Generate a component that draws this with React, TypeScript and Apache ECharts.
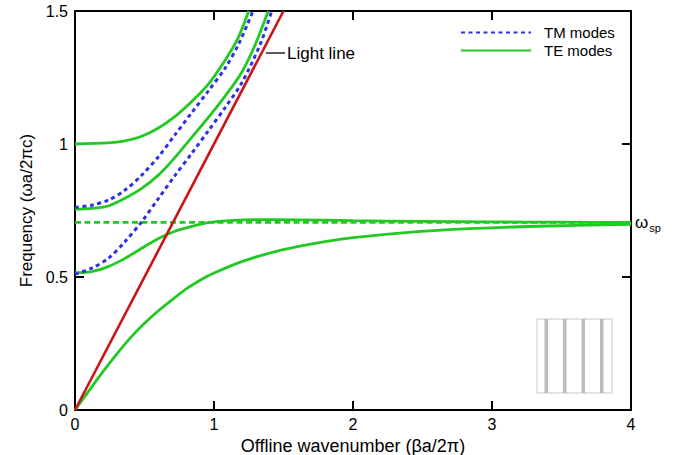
import React, { useEffect, useRef } from "react";
import * as echarts from "echarts";

// TE modes (green, solid)
const teMode1: number[][] = [[0, 1.0], [0.24, 1.004], [0.36, 1.012], [0.48, 1.029], [0.6, 1.06], [0.72, 1.104], [0.84, 1.16], [0.96, 1.225], [1.08, 1.315], [1.17, 1.395], [1.25, 1.5]];
const teMode2: number[][] = [[0, 0.754], [0.12, 0.758], [0.24, 0.767], [0.36, 0.796], [0.48, 0.833], [0.6, 0.883], [0.72, 0.95], [0.84, 1.025], [0.96, 1.1], [1.08, 1.18], [1.2, 1.27], [1.3, 1.378], [1.39, 1.5]];
const teMode3: number[][] = [[0, 0.516], [0.12, 0.52], [0.24, 0.539], [0.36, 0.57], [0.48, 0.608], [0.6, 0.645], [0.72, 0.672], [0.84, 0.69], [0.96, 0.704], [1.08, 0.711], [1.3, 0.716], [1.6, 0.715], [2, 0.712], [2.5, 0.709], [3, 0.707], [3.5, 0.706], [4, 0.705]];
const teMode4: number[][] = [[0, 0], [0.1, 0.072], [0.2, 0.143], [0.3, 0.21], [0.4, 0.272], [0.5, 0.326], [0.6, 0.373], [0.7, 0.415], [0.8, 0.455], [0.9, 0.488], [1.0, 0.515], [1.2, 0.558], [1.4, 0.59], [1.6, 0.614], [1.8, 0.633], [2.0, 0.648], [2.4, 0.668], [2.8, 0.681], [3.2, 0.689], [3.6, 0.694], [4, 0.698]];

// TM modes (blue, dotted)
const tmMode1: number[][] = [[0, 0.762], [0.12, 0.77], [0.24, 0.789], [0.36, 0.827], [0.48, 0.883], [0.6, 0.952], [0.72, 1.035], [0.84, 1.118], [0.96, 1.2], [1.08, 1.285], [1.18, 1.378], [1.28, 1.5]];
const tmMode2: number[][] = [[0, 0.511], [0.12, 0.533], [0.24, 0.57], [0.36, 0.633], [0.48, 0.708], [0.6, 0.795], [0.72, 0.882], [0.84, 0.965], [0.96, 1.05], [1.08, 1.137], [1.2, 1.23], [1.335, 1.378], [1.415, 1.5]];

// surface plasmon frequency and light line
const spFrequency = 0.705;
const spLine: number[][] = [[0, spFrequency], [4, spFrequency]];
const lightLine: number[][] = [[0, 0], [1.5, 1.5]];

const legendNames = ["TM modes", "TE modes"];

const GREEN = "#22c922";
const BLUE = "#2f2fe6";
const RED = "#cc1414";
const FONT = "'Liberation Sans', Arial, Helvetica, sans-serif";

export default function App() {
  const ref = useRef<HTMLDivElement>(null);
  useEffect(() => {
    document.body.style.margin = "0";
    const chart = echarts.init(ref.current!, null, { renderer: "svg" });
    const axisLine = { show: true, onZero: false, lineStyle: { color: "#000", width: 2 } };
    const axisTick = { show: true, inside: true, length: 9, lineStyle: { color: "#000", width: 2 } };
    const teSeries = (data: number[][]) => ({
      type: "line", name: "TE modes", data, symbol: "none", smooth: 0.3,
      lineStyle: { color: GREEN, width: 2.8 }, itemStyle: { color: GREEN }, z: 2,
    });
    const tmSeries = (data: number[][]) => ({
      type: "line", name: "TM modes", data, symbol: "none", smooth: 0.3,
      lineStyle: { color: BLUE, width: 3, type: [4, 3.5] }, itemStyle: { color: BLUE }, z: 3,
    });
    chart.setOption({
      animation: false,
      textStyle: { fontFamily: FONT },
      grid: { left: 75, right: 46, top: 11, bottom: 45, outerBoundsMode: "none" },
      legend: {
        data: legendNames, orient: "vertical", left: 455, top: 20,
        itemWidth: 70, itemHeight: 14, itemGap: 3,
        itemStyle: { opacity: 0 },
        textStyle: { fontSize: 15, color: "#000", fontFamily: FONT, padding: [0, 0, 0, 8] },
      },
      xAxis: [
        {
          type: "value", min: 0, max: 4, interval: 1, position: "bottom",
          name: "Offline wavenumber (βa/2π)", nameLocation: "middle", nameGap: 20,
          nameTextStyle: { fontSize: 18, color: "#000", fontFamily: FONT },
          axisLine, axisTick, splitLine: { show: false },
          axisLabel: { fontSize: 16, color: "#000", margin: 6, fontFamily: FONT },
        },
        {
          type: "value", min: 0, max: 4, interval: 1, position: "top",
          axisLine, axisTick, splitLine: { show: false }, axisLabel: { show: false },
        },
      ],
      yAxis: [
        {
          type: "value", min: 0, max: 1.5, interval: 0.5, position: "left",
          name: "Frequency (ωa/2πc)", nameLocation: "middle", nameGap: 40,
          nameTextStyle: { fontSize: 17, color: "#000", fontFamily: FONT },
          axisLine, axisTick, splitLine: { show: false },
          axisLabel: { fontSize: 16, color: "#000", margin: 7, fontFamily: FONT },
        },
        {
          type: "value", min: 0, max: 1.5, interval: 0.5, position: "right",
          axisLine, axisTick, splitLine: { show: false }, axisLabel: { show: false },
        },
      ],
      series: [
        teSeries(teMode1),
        teSeries(teMode2),
        teSeries(teMode3),
        teSeries(teMode4),
        {
          type: "line", name: "ωsp", data: spLine, symbol: "none",
          lineStyle: { color: GREEN, width: 2.8, type: [6, 3.5] }, z: 2,
        },
        tmSeries(tmMode1),
        tmSeries(tmMode2),
        {
          type: "line", name: "Light line", data: lightLine, symbol: "none",
          lineStyle: { color: RED, width: 2.6 }, z: 4,
        },
      ],
      graphic: [
        { type: "line", shape: { x1: 266, y1: 53, x2: 285, y2: 53 }, style: { stroke: "#000", lineWidth: 1.3 } },
        { type: "text", x: 287, y: 53, style: { text: "Light line", fontSize: 17, fontFamily: FONT, fill: "#000", verticalAlign: "middle" } },
        {
          type: "text", x: 635, y: 222,
          style: {
            text: "{w|ω}{s|sp}", fontFamily: FONT, fill: "#000", verticalAlign: "middle",
            rich: {
              w: { fontSize: 17, fontFamily: FONT, fill: "#000", verticalAlign: "bottom" },
              s: { fontSize: 11, fontFamily: FONT, fill: "#000", verticalAlign: "bottom", padding: [0, 0, -3, 1] },
            },
          },
        },
        { type: "rect", shape: { x: 537, y: 319, width: 75, height: 74 }, style: { fill: "#fff", stroke: "#c8c8c8", lineWidth: 1 } },
        { type: "rect", shape: { x: 544.5, y: 319, width: 3.5, height: 74 }, style: { fill: "#bdbdbd" } },
        { type: "rect", shape: { x: 563, y: 319, width: 3.5, height: 74 }, style: { fill: "#bdbdbd" } },
        { type: "rect", shape: { x: 581.5, y: 319, width: 3.5, height: 74 }, style: { fill: "#bdbdbd" } },
        { type: "rect", shape: { x: 600, y: 319, width: 3.5, height: 74 }, style: { fill: "#bdbdbd" } },
      ],
    });
    return () => chart.dispose();
  }, []);
  return <div ref={ref} style={{ width: 677, height: 455 }} />;
}
